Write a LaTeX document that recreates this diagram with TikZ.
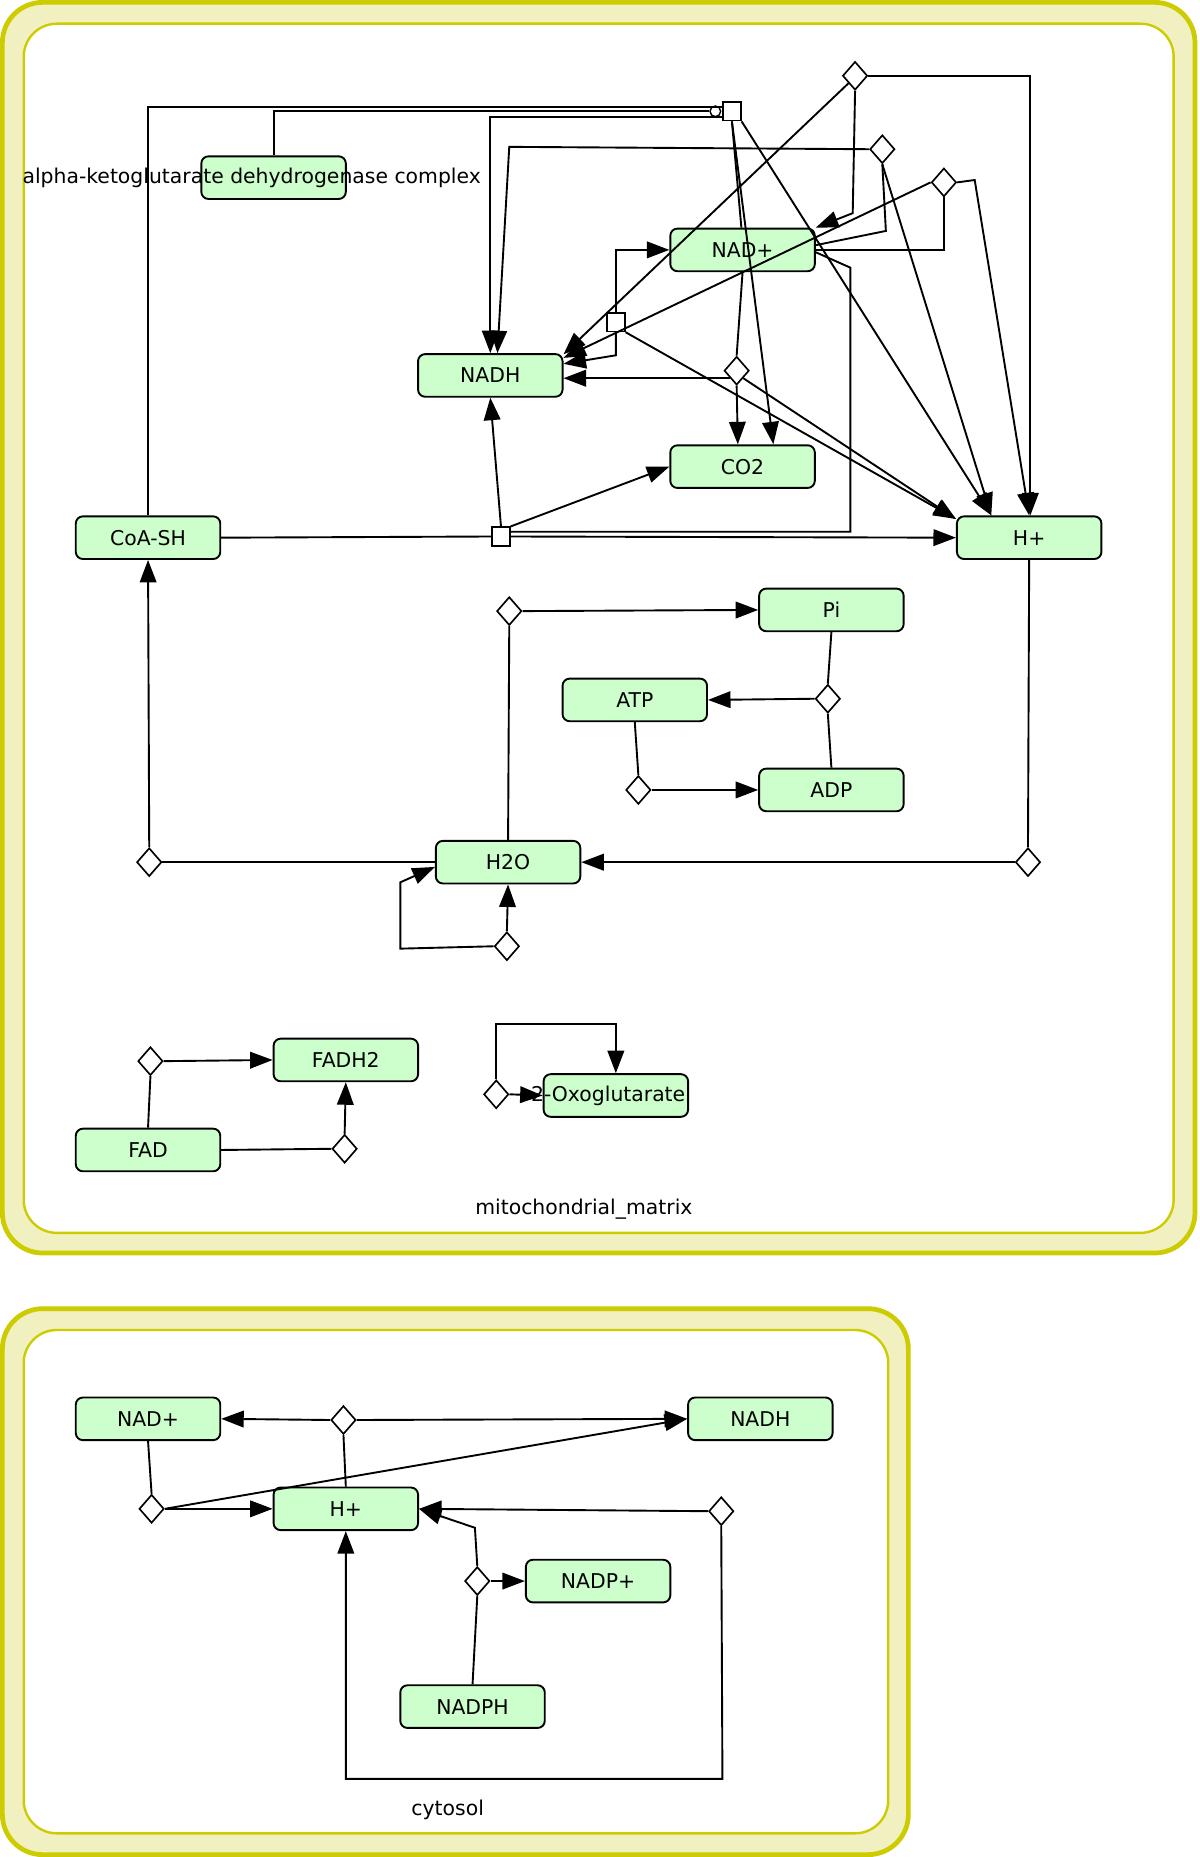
\documentclass[tikz,border=0pt]{standalone}
\usepackage{fontspec}
\setmainfont{DejaVu Sans}
\usetikzlibrary{arrows.meta,shapes.geometric}
\definecolor{spfill}{HTML}{CCFFCC}
\definecolor{cmpline}{HTML}{CCCC00}
\definecolor{cmpfill}{HTML}{F0F0C0}
\begin{document}
\begin{tikzpicture}[x=0.5pt,y=-0.5pt,
  sp/.style={draw=black, line width=0.8pt, fill=spfill, rounded corners=3pt, minimum width=61pt, minimum height=18pt, inner sep=0pt, font=\fontsize{8.6}{10}\selectfont},
  dia/.style={diamond, draw=black, line width=0.7pt, fill=white, minimum width=10.5pt, minimum height=12pt, inner sep=0pt},
  pn/.style={rectangle, draw=black, line width=0.7pt, fill=white, minimum width=7.5pt, minimum height=7.8pt, inner sep=0pt},
  catal/.style={circle, draw=black, line width=0.6pt, fill=white, minimum size=4.5pt, inner sep=0pt},
  ln/.style={draw=black, line width=0.8pt},
  arr/.style={ln, -{Triangle[length=9.5pt,width=7pt]}},
  lbl/.style={font=\fontsize{8.6}{10}\selectfont, inner sep=0pt},
  cmpout/.style={line width=2pt, draw=cmpline, fill=cmpfill, rounded corners=17pt},
  cmpin/.style={line width=1pt, draw=cmpline, fill=white, rounded corners=14pt}
]
\useasboundingbox (0,0) rectangle (1013,1568);
\fill[white] (0,0) rectangle (1013,1568);
% compartments
\draw[cmpout] (2,2) rectangle (1009,1058);
\draw[cmpin] (20,20) rectangle (991,1041);
\draw[cmpout] (2,1105) rectangle (767,1566);
\draw[cmpin] (20,1123) rectangle (750,1548);
\node[lbl] (mlabel) at (493,1021) {mitochondrial\_matrix};
\node[lbl] (clabel) at (378,1528) {cytosol};

% species, mitochondrial matrix
\node[sp] (akgdh) at (231,150) {\makebox[0pt]{\hspace*{-18.5pt}alpha-ketoglutarate dehydrogenase complex}};
\node[sp] (mnad) at (627,211) {NAD+};
\node[sp] (nadh) at (414,317) {NADH};
\node[sp] (co2) at (627,394) {CO2};
\node[sp] (coash) at (125,454) {CoA-SH};
\node[sp] (hp) at (869,454) {H+};
\node[sp] (pi) at (702,515) {Pi};
\node[sp] (atp) at (536,591) {ATP};
\node[sp] (adp) at (702,667) {ADP};
\node[sp] (h2o) at (429,728) {H2O};
\node[sp] (fadh2) at (292,895) {FADH2};
\node[sp] (fad) at (125,971) {FAD};
\node[sp] (oxo) at (520,925) {\makebox[0pt]{\hspace*{-6.5pt}2-Oxoglutarate}};

% species, cytosol
\node[sp] (cnad) at (125,1198) {NAD+};
\node[sp] (cnadh) at (642,1198) {NADH};
\node[sp] (chp) at (292,1274) {H+};
\node[sp] (cnadpp) at (505,1335) {NADP+};
\node[sp] (cnadph) at (399,1441) {NADPH};

% process nodes, mitochondrial matrix
\node[pn] (sq1) at (618,94) {};
\node[catal] (cat) at (604,94) {};
\node[pn] (sq2) at (520,272) {};
\node[pn] (sq3) at (423,453) {};
\node[dia] (d1) at (722,64) {};
\node[dia] (d2) at (745,126) {};
\node[dia] (d3) at (797,154) {};
\node[dia] (d4) at (622,313) {};
\node[dia] (d5) at (430,516) {};
\node[dia] (d6) at (699,590) {};
\node[dia] (d7) at (539,667) {};
\node[dia] (d8) at (126,728) {};
\node[dia] (d9) at (868,728) {};
\node[dia] (d10) at (428,799) {};
\node[dia] (d11) at (127,896) {};
\node[dia] (d12) at (291,970) {};
\node[dia] (d13) at (419,924) {};
% process nodes, cytosol
\node[dia] (c1) at (290,1199) {};
\node[dia] (c2) at (128,1274) {};
\node[dia] (c3) at (609,1276) {};
\node[dia] (c4) at (403,1335) {};

% connectors, upper matrix
\draw[ln] (coash.north) |- ([yshift=2pt]sq1.west);
\draw[ln] (akgdh.north) |- (cat.west);
\draw[arr] ([yshift=-2.5pt]sq1.west) -| (nadh.north);
\draw[ln] (sq1.south) -- ([xshift=-0.5pt]mnad.north);
\draw[ln] (mnad.south) -- (d4.north);
\draw[arr] (sq1.south) -- ([xshift=13pt]co2.north);
\draw[arr] (sq1.south east) -- ([xshift=-16pt]hp.north);

\draw[arr] (d1.east) -| ([xshift=0.5pt]hp.north);
\draw[arr] (d1.south) -- (720,180) -- (mnad.north east);
\draw[arr] (d1.south west) -- ([yshift=-0.5pt]nadh.north east);

\draw[arr] (d2.west) -- (430,124) -- ([xshift=3pt]nadh.north);
\draw[ln] (d2.south) -- (748,195) -- ([yshift=2pt]mnad.east);
\draw[arr] (d2.south) -- ([xshift=-16pt]hp.north);

\draw[arr] (d3.east) -- (823,152) -- (hp.north);
\draw[ln] (d3.south) |- (mnad.east);
\draw[arr] (d3.west) -- ([yshift=-2pt]nadh.north east);

\draw[arr] (d4.south west) -- (d4.south west -| nadh.east);
\draw[arr] (d4.south) -- ([xshift=-2pt]co2.north);
\draw[arr] (d4.south east) -- ([yshift=-1.5pt]hp.north west);

\draw[arr] (sq2.north) |- (mnad.west);
\draw[arr] (sq2.south) -- (520,300) -- ([yshift=-4.5pt]nadh.north east);
\draw[arr] (sq2.south east) -- ([yshift=-1.5pt]hp.north west);

\draw[ln] (coash.east) -- (sq3.west);
\draw[arr] (sq3.north) -- (nadh.south);
\draw[arr] (sq3.north east) -- (co2.west);
\draw[arr] (sq3.east) -- (hp.west);
\draw[ln] ([yshift=2pt]sq3.east) -- (718,449) -- (718,226) -- ([yshift=-1pt]mnad.east);

% connectors, lower matrix
\draw[ln] (h2o.north) -- (d5.south);
\draw[arr] (d5.east) -- (pi.west);
\draw[ln] (pi.south) -- (d6.north);
\draw[arr] (d6.west) -- (atp.east);
\draw[ln] (d6.south) -- (adp.north);
\draw[ln] (atp.south) -- (d7.north);
\draw[arr] (d7.east) -- (adp.west);
\draw[ln] (d8.east) -- (h2o.west);
\draw[arr] (d8.north) -- (coash.south);
\draw[ln] (hp.south) -- (d9.north);
\draw[arr] (d9.west) -- (h2o.east);
\draw[arr] (d10.north) -- (h2o.south);
\draw[arr] (d10.west) -- (338,801) -- (338,745) -- ([yshift=-2pt]h2o.west);
\draw[ln] (fad.north) -- (d11.south);
\draw[arr] (d11.east) -- (fadh2.west);
\draw[ln] (fad.east) -- (d12.west);
\draw[arr] (d12.north) -- (fadh2.south);
\draw[arr] (d13.north) -- (419,865) -| (oxo.north);
\draw[arr] (d13.east) -- (oxo.west);

% connectors, cytosol
\draw[ln] (cnad.south) -- (c2.north);
\draw[arr] (c2.east) -- (chp.west);
\draw[arr] (c2.east) -- (cnadh.west);
\draw[arr] (c1.west) -- (cnad.east);
\draw[arr] (c1.east) -- (cnadh.west);
\draw[ln] (c1.south) -- (chp.north);
\draw[arr] (c3.west) -- (chp.east);
\draw[arr] (c3.south) -- (610,1502) -| (chp.south);
\draw[arr] (c4.north) -- (401,1290) -- (chp.east);
\draw[arr] (c4.east) -- (cnadpp.west);
\draw[ln] (cnadph.north) -- (c4.south);
\end{tikzpicture}
\end{document}
